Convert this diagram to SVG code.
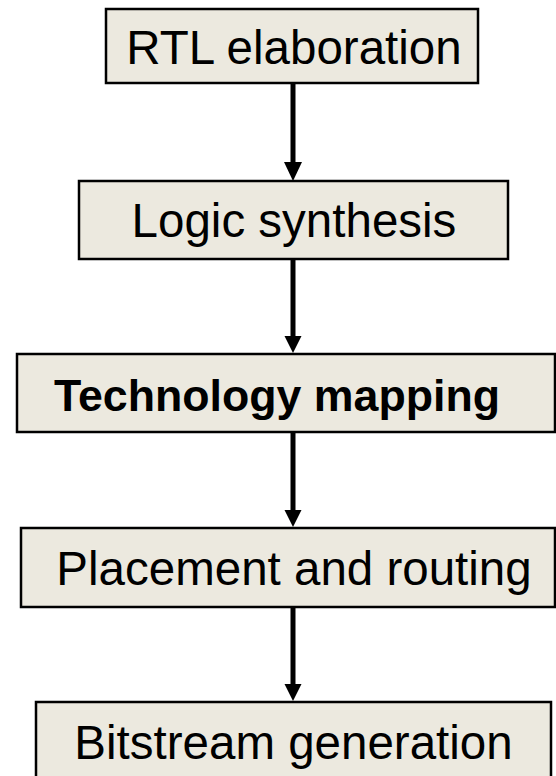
<svg xmlns="http://www.w3.org/2000/svg" width="556" height="776" viewBox="0 0 556 776">
<defs>
<style>
.box{fill:#ECE9DF;stroke:#000;stroke-width:2.5}
.lbl{font-family:"Liberation Sans",Arial,sans-serif;font-size:47.5px;fill:#000}
.b{font-weight:bold;font-size:44.7px}
.conn{stroke:#000;stroke-width:5;fill:none}
.head{fill:#000}
</style>
</defs>
<rect width="556" height="776" fill="#fff"/>
<g id="connectors">
<line class="conn" x1="293" y1="84" x2="293" y2="166"/>
<polygon class="head" points="284,162 302,162 293,181"/>
<line class="conn" x1="293" y1="260" x2="293" y2="340"/>
<polygon class="head" points="284.5,336 301.5,336 293,353"/>
<line class="conn" x1="293" y1="433" x2="293" y2="513"/>
<polygon class="head" points="284.5,510 301.5,510 293,527"/>
<line class="conn" x1="293" y1="608" x2="293" y2="687"/>
<polygon class="head" points="284.5,684 301.5,684 293,701"/>
</g>
<g id="n1">
<rect class="box" x="106" y="9" width="372" height="74"/>
<text class="lbl" x="294" y="64" text-anchor="middle">RTL elaboration</text>
</g>
<g id="n2">
<rect class="box" x="79" y="181" width="429" height="78"/>
<text class="lbl" x="294" y="237" text-anchor="middle">Logic synthesis</text>
</g>
<g id="n3">
<rect class="box" x="17" y="354" width="538" height="78"/>
<text class="lbl b" x="277" y="411" text-anchor="middle">Technology mapping</text>
</g>
<g id="n4">
<rect class="box" x="21" y="528" width="534" height="79"/>
<text class="lbl" x="294" y="585" text-anchor="middle">Placement and routing</text>
</g>
<g id="n5">
<rect class="box" x="36" y="702" width="515" height="80"/>
<text class="lbl" x="293.5" y="759" text-anchor="middle">Bitstream generation</text>
</g>
</svg>
